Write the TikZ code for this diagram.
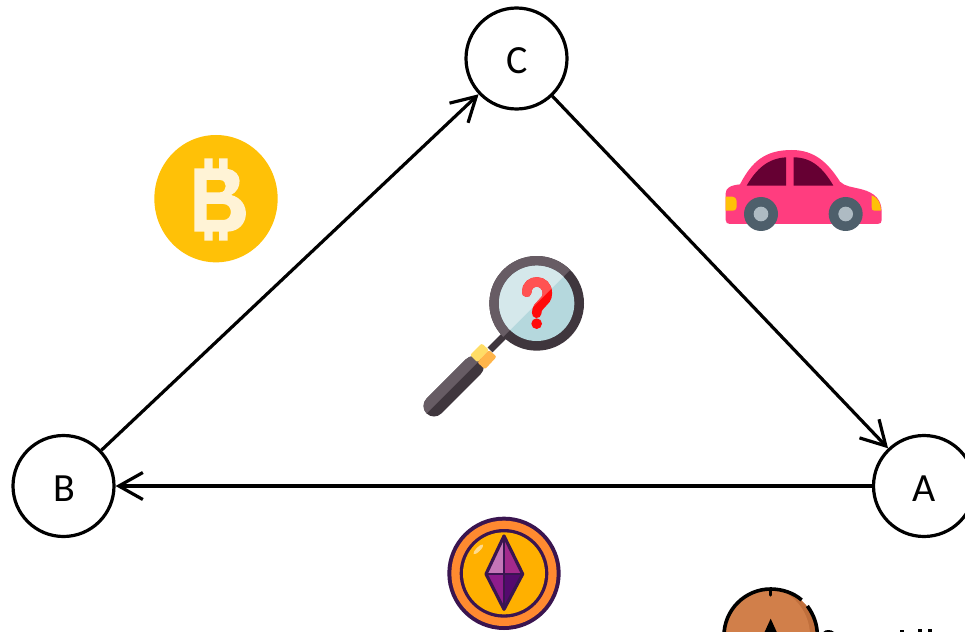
\documentclass[tikz,border=0pt]{standalone}
\usepackage{fontspec}
\setmainfont{Carlito}
\usetikzlibrary{arrows.meta}
\definecolor{btc}{HTML}{FFC107}
\definecolor{btcB}{HTML}{FFF3D6}
\definecolor{carP}{HTML}{FF3D7F}
\definecolor{carW}{HTML}{660033}
\definecolor{carT}{HTML}{4E5F6B}
\definecolor{carH}{HTML}{AEBBC3}
\definecolor{magL}{HTML}{675C64}
\definecolor{magD}{HTML}{3F363D}
\definecolor{lensL}{HTML}{D5E8EB}
\definecolor{lensD}{HTML}{B5D8DD}
\definecolor{qL}{HTML}{FF5252}
\definecolor{qD}{HTML}{FF0A0A}
\definecolor{colL}{HTML}{FFDD66}
\definecolor{colD}{HTML}{FFB54A}
\definecolor{ethO}{HTML}{3A1550}
\definecolor{ethR}{HTML}{FF8A30}
\definecolor{ethY}{HTML}{FFB000}
\definecolor{ethA}{HTML}{C576B8}
\definecolor{ethB}{HTML}{A32A8C}
\definecolor{ethC}{HTML}{8E1C8C}
\definecolor{ethE}{HTML}{540A6E}
\definecolor{coin}{HTML}{D17F4A}
\definecolor{coinD}{HTML}{C06F3C}
\tikzset{
  vertex/.style={circle,draw=black,line width=3.2pt,fill=white,minimum size=101pt,inner sep=0pt,text height=31pt,text depth=0pt,font=\fontsize{40}{40}\selectfont},
  edge/.style={line width=3.2pt,draw=black,-{Straight Barb[length=24pt,width=27pt,line width=3.2pt]}},
  zoomed/.style={scale=1/3}
}
\begin{document}
\begin{tikzpicture}[x=1pt,y=-1pt]
\useasboundingbox (0,0) rectangle (965,631);
\clip (0,0) rectangle (965,631);
\fill[white] (0,0) rectangle (965,631);

% nodes
\node[vertex] (C) at (516.5,58.5) {\hspace*{2pt}C};
\node[vertex] (B) at (63.5,486) {\hspace*{1pt}B};
\node[vertex] (A) at (924,486) {A};
% connectors
\draw[edge] (B) -- (C);
\draw[edge] (C) -- (A);
\draw[edge] (A) -- (B);

% bitcoin
\begin{scope}[shift={(145,125)},zoomed]
  \fill[btc] (213,221) ellipse [x radius=185,y radius=191];
  \fill[btcB,even odd rule]
    (178,100) -- (203,100) -- (203,130) -- (222,130) -- (222,100) -- (248,100) -- (248,132)
    .. controls (296,138) and (292,195) .. (258,210)
    .. controls (322,225) and (316,318) .. (248,320)
    -- (248,347) -- (222,347) -- (222,320) -- (203,320) -- (203,347) -- (178,347) -- (178,320) -- (148,320) -- (148,130) -- (178,130) -- cycle
    (185,165) -- (185,202) -- (225,202) .. controls (248,202) and (248,165) .. (225,165) -- cycle
    (185,237) -- (185,285) -- (235,285) .. controls (265,285) and (265,237) .. (235,237) -- cycle;
\end{scope}

% car
\begin{scope}[shift={(715,140)},zoomed]
  \fill[carP] (32,160) .. controls (32,145) and (45,136) .. (75,133)
    .. controls (110,65) and (150,30) .. (230,30)
    .. controls (300,30) and (340,70) .. (375,125)
    .. controls (390,140) and (410,140) .. (440,148)
    .. controls (480,158) and (500,180) .. (500,215)
    -- (500,240) .. controls (500,248) and (496,252) .. (488,252)
    -- (45,252) .. controls (37,252) and (32,248) .. (32,240) -- cycle;
  \fill[carW] (95,137) .. controls (125,85) and (160,55) .. (213,52) -- (213,137) -- cycle;
  \fill[carW] (236,52) .. controls (290,52) and (325,85) .. (355,137) -- (236,137) -- cycle;
  \fill[carT] (138,222) circle (51);
  \fill[carH] (138,222) circle (22);
  \fill[carT] (392,222) circle (51);
  \fill[carH] (392,222) circle (22);
  \fill[btc] (32,170) -- (52,170) .. controls (62,172) and (65,178) .. (65,188) -- (65,196) .. controls (65,206) and (62,212) .. (52,212) -- (32,212) -- cycle;
  \fill[btc] (470,166) .. controls (488,172) and (498,190) .. (498,212) -- (478,212) .. controls (472,212) and (470,208) .. (470,202) -- cycle;
\end{scope}

% magnifier
\begin{scope}[shift={(410,250)},zoomed]
  \draw[magD,line width=7pt] (290,250) -- (240,300);
  % grip
  \draw[magD,line width=21pt,line cap=round] (190,350) -- (72,468);
  \begin{scope}
    \clip (0,540) -- (540,0) -- (0,0) -- cycle;
    \draw[magL,line width=21pt,line cap=round] (190,350) -- (72,468);
  \end{scope}
  % collar
  \fill[colL,rounded corners=2pt] (215,280) -- (237,300) -- (202,337) -- (180,315) -- cycle;
  \fill[colD,rounded corners=2pt] (237,300) -- (260,320) -- (225,358) -- (202,337) -- cycle;
  % ring
  \fill[magD] (380,160) circle (142);
  \begin{scope}
    \clip (100,440) -- (660,-120) -- (100,-120) -- cycle;
    \fill[magL] (380,160) circle (142);
  \end{scope}
  % lens
  \fill[lensD] (380,160) circle (113);
  \begin{scope}
    \clip (100,440) -- (660,-120) -- (100,-120) -- cycle;
    \fill[lensL] (380,160) circle (113);
  \end{scope}
  % question mark
  \draw[qD,line width=9.5pt,line cap=round] (350,127) .. controls (350,85) and (412,85) .. (412,130)
     .. controls (412,160) and (380,160) .. (380,190);
  \fill[qD] (380,221) circle (16);
  \begin{scope}
    \clip (100,440) -- (660,-120) -- (100,-120) -- cycle;
    \draw[qL,line width=9.5pt,line cap=round] (350,127) .. controls (350,85) and (412,85) .. (412,130)
     .. controls (412,160) and (380,160) .. (380,190);
  \end{scope}
\end{scope}

% ether coin
\begin{scope}[shift={(430,510)},zoomed]
  \fill[ethO] (222,190) circle (170);
  \fill[ethR] (222,190) circle (158);
  \fill[ethO] (222,190) circle (133);
  \fill[ethY] (222,190) circle (123);
  \fill[white,opacity=.55,rotate around={45:(145,118)}] (145,118) ellipse [x radius=20,y radius=6];
  \fill[ethA] (222,78) -- (168,192) -- (222,192) -- cycle;
  \fill[ethB] (222,78) -- (278,192) -- (222,192) -- cycle;
  \fill[ethC] (168,192) -- (222,192) -- (222,298) -- cycle;
  \fill[ethE] (278,192) -- (222,192) -- (222,298) -- cycle;
  \draw[ethO,line width=1.4pt] (222,78) -- (222,298) (168,192) -- (278,192);
  \draw[ethO,line width=3.2pt,line join=round] (222,78) -- (278,192) -- (222,298) -- (168,192) -- cycle;
\end{scope}

% cropped coin at bottom right
\begin{scope}[shift={(700,570)},zoomed]
  \fill[coin] (212,197) circle (140);
  \begin{scope}
    \clip (212,197) circle (140);
    \fill[coinD] (345,197) circle (170);
    \fill[coin] (180,197) circle (150);
  \end{scope}
  \draw[black,line width=3.6pt] (212,197) ++(-140,0)
     .. controls (72,120) and (135,57) .. (212,57)
     .. controls (245,57) and (280,68) .. (305,90);
  \draw[black,line width=3.6pt] (322,108) .. controls (342,135) and (352,165) .. (352,197);
  \draw[black,line width=3.2pt,line cap=round] (212,57) -- (212,75);
  \fill[black] (212,146) -- (192,190) -- (232,190) -- cycle;
  % cropped tops of text
  \fill[black] (370,186) .. controls (375,178) and (395,178) .. (402,186) -- (402,190) -- (370,190) -- cycle;
  \fill[black] (600,180) rectangle (612,190);
  \fill[black] (655,178) rectangle (667,190);
  \fill[black] (685,178) rectangle (697,190);
\end{scope}
\end{tikzpicture}
\end{document}
